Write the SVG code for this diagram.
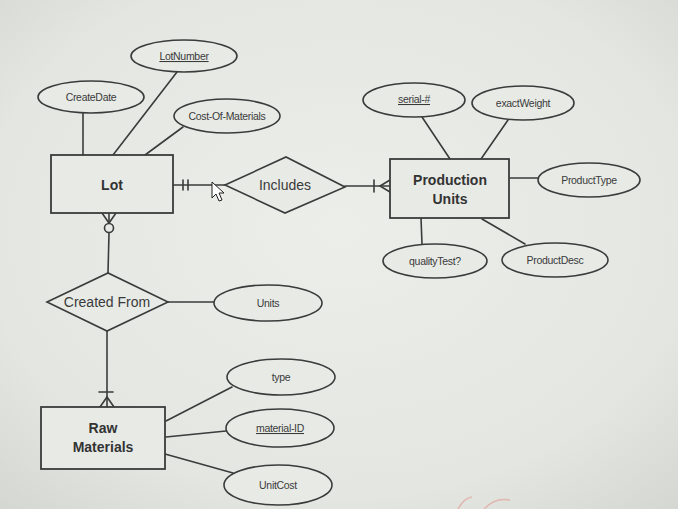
<svg xmlns="http://www.w3.org/2000/svg" width="678" height="509" viewBox="0 0 678 509">
<defs>
<radialGradient id="bg" cx="0.5" cy="0.45" r="0.75">
<stop offset="0" stop-color="#eceeea"/>
<stop offset="0.7" stop-color="#e3e6e1"/>
<stop offset="1" stop-color="#d3d6d1"/>
</radialGradient>
<style>
.s{fill:none;stroke:#3b3b3b;stroke-width:1.6;stroke-linecap:round}
.box{fill:#e8eae6;stroke:#3b3b3b;stroke-width:1.8}
.att{fill:#e8eae6;stroke:#3b3b3b;stroke-width:1.6}
.at{font-family:"Liberation Sans",Arial,sans-serif;font-size:10.5px;fill:#3a3a3a;text-anchor:middle;letter-spacing:-0.3px}
.en{font-family:"Liberation Sans",Arial,sans-serif;font-size:14px;font-weight:bold;fill:#333;text-anchor:middle}
.rl{font-family:"Liberation Sans",Arial,sans-serif;font-size:14px;fill:#3a3a3a;text-anchor:middle}
.u{text-decoration:underline}
</style>
</defs>
<rect width="678" height="509" fill="url(#bg)"/>

<g id="connectors">
<!-- Lot attributes -->
<line class="s" x1="83" y1="113" x2="83" y2="155"/>
<line class="s" x1="177" y1="72" x2="113" y2="155"/>
<line class="s" x1="183" y1="127" x2="145" y2="155"/>
<!-- Lot - Includes -->
<line class="s" x1="173" y1="185" x2="225" y2="185"/>
<line class="s" x1="183" y1="180" x2="183" y2="190"/>
<line class="s" x1="188" y1="180" x2="188" y2="190"/>
<!-- Includes - Production Units -->
<line class="s" x1="345" y1="186" x2="390" y2="186"/>
<line class="s" x1="374" y1="180" x2="374" y2="192"/>
<path class="s" d="M390 180 L380 186 L390 192"/>
<!-- Production Units attributes -->
<line class="s" x1="422" y1="117" x2="450" y2="159"/>
<line class="s" x1="508" y1="120" x2="481" y2="159"/>
<line class="s" x1="509" y1="178" x2="538" y2="178"/>
<line class="s" x1="421" y1="218" x2="422" y2="244"/>
<line class="s" x1="482" y1="219" x2="525" y2="244"/>
<!-- Lot - Created From -->
<path class="s" d="M102 213 L109 223 L116 213"/>
<line class="s" x1="109" y1="213" x2="109" y2="223"/>
<circle cx="109" cy="228" r="4.5" fill="#e8eae6" stroke="#3b3b3b" stroke-width="1.6"/>
<line class="s" x1="109" y1="233" x2="108" y2="273"/>
<!-- Created From - Units -->
<line class="s" x1="168" y1="302" x2="214" y2="302"/>
<!-- Created From - Raw Materials -->
<line class="s" x1="107" y1="331" x2="107" y2="407"/>
<line class="s" x1="99" y1="392" x2="113" y2="392"/>
<path class="s" d="M100 407 L107 397 L114 407"/>
<!-- Raw Materials attributes -->
<line class="s" x1="166" y1="421" x2="232" y2="387"/>
<line class="s" x1="166" y1="437" x2="226" y2="431"/>
<line class="s" x1="165" y1="454" x2="233" y2="473"/>
</g>

<g id="lot">
<rect class="box" x="51" y="155" width="122" height="58"/>
<text class="en" x="112" y="190">Lot</text>
</g>
<g id="lotnumber">
<ellipse class="att" cx="184" cy="56" rx="53" ry="16"/>
<text class="at u" x="184" y="60">LotNumber</text>
</g>
<g id="createdate">
<ellipse class="att" cx="91" cy="97" rx="53" ry="16"/>
<text class="at" x="91" y="101">CreateDate</text>
</g>
<g id="costofmaterials">
<ellipse class="att" cx="227" cy="116" rx="53" ry="17"/>
<text class="at" x="227" y="120">Cost-Of-Materials</text>
</g>

<g id="includes">
<polygon class="att" points="225,185 286,157 345,187 285,213"/>
<text class="rl" x="285" y="190">Includes</text>
</g>

<g id="production-units">
<rect class="box" x="390" y="159" width="119" height="59"/>
<text class="en" x="450" y="185">Production</text>
<text class="en" x="450" y="204">Units</text>
</g>
<g id="serial">
<ellipse class="att" cx="414" cy="100" rx="51" ry="17"/>
<text class="at u" x="414" y="103">serial-#</text>
</g>
<g id="exactweight">
<ellipse class="att" cx="523" cy="103" rx="51" ry="17"/>
<text class="at" x="523" y="107">exactWeight</text>
</g>
<g id="producttype">
<ellipse class="att" cx="589" cy="180" rx="51" ry="17"/>
<text class="at" x="589" y="184">ProductType</text>
</g>
<g id="qualitytest">
<ellipse class="att" cx="435" cy="261" rx="52" ry="17"/>
<text class="at" x="435" y="265">qualityTest?</text>
</g>
<g id="productdesc">
<ellipse class="att" cx="555" cy="260" rx="53" ry="17"/>
<text class="at" x="555" y="264">ProductDesc</text>
</g>

<g id="created-from">
<polygon class="att" points="47,302 108,273 168,302 107,331"/>
<text class="rl" x="107" y="307">Created From</text>
</g>
<g id="units">
<ellipse class="att" cx="268" cy="303" rx="54" ry="18"/>
<text class="at" x="268" y="307">Units</text>
</g>

<g id="raw-materials">
<rect class="box" x="41" y="407" width="124" height="62"/>
<text class="en" x="103" y="433">Raw</text>
<text class="en" x="103" y="452">Materials</text>
</g>
<g id="type">
<ellipse class="att" cx="281" cy="377" rx="54" ry="18"/>
<text class="at" x="281" y="381">type</text>
</g>
<g id="material-id">
<ellipse class="att" cx="280" cy="428" rx="54" ry="19"/>
<text class="at u" x="280" y="432">material-ID</text>
</g>
<g id="unitcost">
<ellipse class="att" cx="278" cy="485" rx="54" ry="20"/>
<text class="at" x="278" y="489">UnitCost</text>
</g>

<g id="cursor">
<polygon points="212,182 212,198 216,194 219,201 222,200 219,193 224,193" fill="#fff" stroke="#222" stroke-width="1" stroke-linejoin="round"/>
</g>
<path d="M458 509 Q464 498 472 497 M484 509 Q495 497 510 500" fill="none" stroke="#e2a59a" stroke-width="1.5" opacity="0.7"/>
</svg>
